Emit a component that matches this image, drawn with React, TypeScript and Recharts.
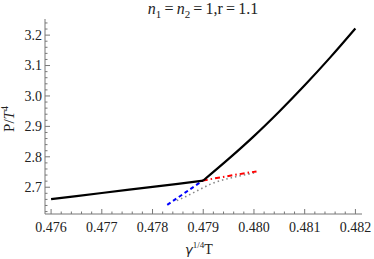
import React from "react";
import { Label, Line, LineChart, XAxis, YAxis } from "recharts";

// black solid curve, left branch (below the kink) and right branch
const lowX = [0.476, 0.4765, 0.477, 0.4775, 0.478, 0.4785, 0.479];
const lowY = [2.661, 2.671, 2.681, 2.691, 2.701, 2.711, 2.722];
const highX = [0.479, 0.4795, 0.48, 0.4805, 0.481, 0.4815, 0.482];
const highY = [2.722, 2.793, 2.868, 2.949, 3.035, 3.126, 3.222];

// blue dashed
const blueX = [0.47829, 0.47865, 0.47899];
const blueY = [2.642, 2.683, 2.722];

// red dot-dashed
const redX = [0.47899, 0.4795, 0.48005];
const redY = [2.722, 2.737, 2.752];

// gray dotted
const grayX = [0.47848, 0.47865, 0.4789, 0.47917, 0.47963, 0.48005];
const grayY = [2.656, 2.669, 2.69, 2.712, 2.734, 2.748];

const xMajor = [0.476, 0.477, 0.478, 0.479, 0.48, 0.481, 0.482];
const yMajor = [2.7, 2.8, 2.9, 3.0, 3.1, 3.2];
const xDomain: [number, number] = [0.47588, 0.48213];
const yDomain: [number, number] = [2.612, 3.253];

const frame = "#777";
const font = "'Liberation Serif', 'Times New Roman', serif";

const pts = (xs: number[], ys: number[]) => xs.map((x, i) => ({ x, y: ys[i] }));

// minor ticks: 5 steps per major interval
const minorTicks = (major: number[], step: number, lo: number, hi: number) => {
  const out: number[] = [];
  for (let v = major[0] - step * 4; v <= major[major.length - 1] + step * 4 + 1e-9; v += step) {
    const r = Math.round(v / step) * step;
    if (r >= lo && r <= hi) out.push(+r.toFixed(6));
  }
  return out;
};
const xTicks = minorTicks(xMajor, 0.0002, xDomain[0], xDomain[1]);
const yTicks = minorTicks(yMajor, 0.02, yDomain[0], yDomain[1]);

const isMajor = (v: number, major: number[]) => major.some((m) => Math.abs(m - v) < 1e-7);

function BottomTick({ x, y, payload }: any) {
  const major = isMajor(payload.value, xMajor);
  return (
    <g>
      <line x1={x} x2={x} y1={y} y2={y - (major ? 5 : 2.5)} stroke={frame} />
      {major && (
        <text x={x} y={y + 18} textAnchor="middle" fontFamily={font} fontSize={14} fill="#222">
          {payload.value.toFixed(3)}
        </text>
      )}
    </g>
  );
}

function TopTick({ x, y, payload }: any) {
  const major = isMajor(payload.value, xMajor);
  return <line x1={x} x2={x} y1={y} y2={y + (major ? 5 : 2.5)} stroke={frame} />;
}

function LeftTick({ x, y, payload }: any) {
  const major = isMajor(payload.value, yMajor);
  return (
    <g>
      <line x1={x} x2={x + (major ? 5 : 2.5)} y1={y} y2={y} stroke={frame} />
      {major && (
        <text x={x - 3} y={y + 4.7} textAnchor="end" fontFamily={font} fontSize={14} fill="#222">
          {payload.value.toFixed(1)}
        </text>
      )}
    </g>
  );
}

function RightTick({ x, y, payload }: any) {
  const major = isMajor(payload.value, yMajor);
  return <line x1={x} x2={x - (major ? 5 : 2.5)} y1={y} y2={y} stroke={frame} />;
}

export default function App() {
  return (
    <div style={{ position: "absolute", left: 0, top: 0, width: 374, height: 259, background: "#fff" }}>
      <div
        style={{
          position: "absolute",
          left: 0,
          width: 406,
          top: -1,
          textAlign: "center",
          fontFamily: font,
          fontSize: 16,
          whiteSpace: "pre",
          color: "#222",
          lineHeight: "20px",
        }}
      >
        <i>n</i>
        <sub style={{ fontSize: 11 }}>1</sub>{"\u2009=\u2009"}<i>n</i>
        <sub style={{ fontSize: 11 }}>2</sub>{"\u2009=\u20091,r\u2009=\u20091.1"}
      </div>
      <LineChart width={374} height={259} margin={{ top: 19, right: 12, left: 0, bottom: 0 }}>
        <XAxis
          xAxisId="b"
          dataKey="x"
          type="number"
          domain={xDomain}
          allowDataOverflow
          ticks={xTicks}
          interval={0}
          height={45}
          tickSize={0}
          tickMargin={0}
          tickLine={false}
          axisLine={{ stroke: frame }}
          tick={<BottomTick />}
        >
          <Label
            content={() => (
              <text x={199} y={254} fontFamily={font} fontSize={14} fill="#222" textAnchor="middle">
                <tspan fontStyle="italic" fontFamily="'DejaVu Sans', sans-serif" fontSize={13}>γ</tspan>
                <tspan fontSize={9} dy={-6}>1/4</tspan>
                <tspan dy={6}>T</tspan>
              </text>
            )}
          />
        </XAxis>
        <XAxis
          xAxisId="t"
          orientation="top"
          dataKey="x"
          type="number"
          domain={xDomain}
          allowDataOverflow
          ticks={xTicks}
          interval={0}
          height={0}
          tickSize={0}
          tickMargin={0}
          tickLine={false}
          axisLine={{ stroke: frame }}
          tick={<TopTick />}
        />
        <YAxis
          yAxisId="l"
          type="number"
          domain={yDomain}
          allowDataOverflow
          ticks={yTicks}
          interval={0}
          width={45}
          tickSize={0}
          tickMargin={0}
          tickLine={false}
          axisLine={{ stroke: frame }}
          tick={<LeftTick />}
        >
          <Label
            content={() => (
              <text
                x={14}
                y={119}
                transform="rotate(-90 14 119)"
                fontFamily={font}
                fontSize={15}
                fill="#222"
                textAnchor="middle"
              >
                P/<tspan fontStyle="italic">T</tspan>
                <tspan fontSize={10} dy={-6}>4</tspan>
              </text>
            )}
          />
        </YAxis>
        <YAxis
          yAxisId="r"
          orientation="right"
          type="number"
          domain={yDomain}
          allowDataOverflow
          ticks={yTicks}
          interval={0}
          width={0}
          tickSize={0}
          tickMargin={0}
          tickLine={false}
          axisLine={{ stroke: frame }}
          tick={<RightTick />}
        />
        <Line
          xAxisId="b"
          yAxisId="l"
          data={pts(grayX, grayY)}
          dataKey="y"
          type="monotone"
          stroke="#888"
          strokeWidth={1.6}
          strokeDasharray="1.5 3"
          dot={false}
          isAnimationActive={false}
        />
        <Line
          xAxisId="b"
          yAxisId="l"
          data={pts(blueX, blueY)}
          dataKey="y"
          type="monotone"
          stroke="#0000ff"
          strokeWidth={2}
          strokeDasharray="4 3"
          dot={false}
          isAnimationActive={false}
        />
        <Line
          xAxisId="b"
          yAxisId="l"
          data={pts(redX, redY)}
          dataKey="y"
          type="monotone"
          stroke="#ff0000"
          strokeWidth={2}
          strokeDasharray="5 3 1.5 3"
          dot={false}
          isAnimationActive={false}
        />
        <Line
          xAxisId="b"
          yAxisId="l"
          data={pts(lowX, lowY)}
          dataKey="y"
          type="linear"
          stroke="#000"
          strokeWidth={2.2}
          dot={false}
          isAnimationActive={false}
        />
        <Line
          xAxisId="b"
          yAxisId="l"
          data={pts(highX, highY)}
          dataKey="y"
          type="monotone"
          stroke="#000"
          strokeWidth={2.2}
          dot={false}
          isAnimationActive={false}
        />
      </LineChart>
    </div>
  );
}
